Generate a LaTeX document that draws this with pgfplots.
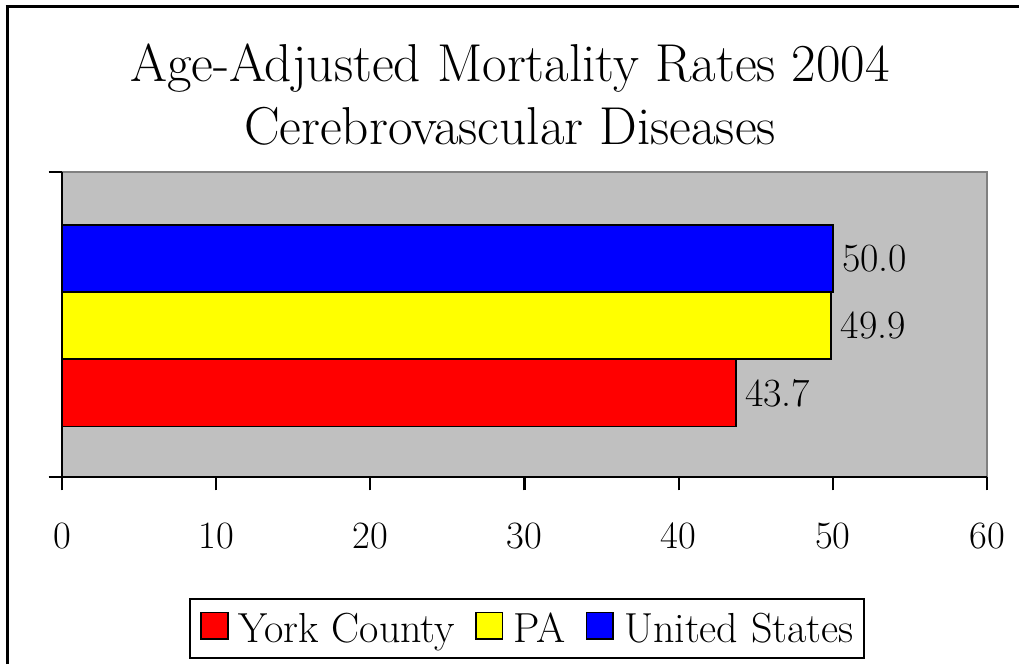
\documentclass[border=0pt]{standalone}
\usepackage{fontspec}
\usepackage{pgfplots}
\pgfplotsset{compat=1.18}
\definecolor{plotgray}{RGB}{192,192,192}
\definecolor{edgegray}{RGB}{128,128,128}
\definecolor{barred}{RGB}{255,0,0}
\definecolor{baryellow}{RGB}{255,255,0}
\definecolor{barblue}{RGB}{0,0,255}
\begin{document}
\begin{tikzpicture}[x=0.75pt,y=0.75pt]
\useasboundingbox (0,0) rectangle (1019,664);
\draw[line width=2.25pt] (7,0) -- (7,657);
\draw[line width=2.25pt] (5.5,657) -- (1019,657);
\node[font=\fontsize{40}{46}\selectfont, anchor=base] at (510,582) {Age-Adjusted Mortality Rates 2004};
\node[font=\fontsize{40}{46}\selectfont, anchor=base] at (510,519) {Cerebrovascular Diseases};
\begin{axis}[
  at={(46.5pt,140.25pt)}, anchor=south west,
  width=693.75pt, height=228.75pt, scale only axis,
  xmin=0, xmax=60, ymin=0, ymax=305,
  xtick={0,10,20,30,40,50,60},
  ytick={0,305}, yticklabels={},
  tick align=outside, major tick length=10pt,
  axis x line*=bottom, axis y line*=left,
  axis line style={line width=1.6pt},
  tick style={black, line width=1.6pt},
  axis background/.style={fill=plotgray, draw=edgegray, line width=2pt},
  /pgf/number format/assume math mode=true,
  ticklabel style={font=\fontsize{29}{33}\selectfont},
  xticklabel style={yshift=-21pt},
  xbar, bar width=67, bar shift=0pt,
  every axis plot/.append style={draw=black, line width=1.4pt, bar shift=0pt},
  nodes near coords,
  nodes near coords style={anchor=west, xshift=3pt, font=\fontsize{30}{34}\selectfont, /pgf/number format/fixed, /pgf/number format/fixed zerofill, /pgf/number format/precision=1},
  legend columns=3,
  legend style={at={(0.5027,-0.4967)}, anchor=center, draw=black, line width=1.5pt, font=\fontsize{31.5}{35}\selectfont, inner xsep=8pt, inner ysep=8pt,
    nodes={inner xsep=0pt},
    /tikz/every even column/.append style={column sep=15pt},
    /tikz/every odd column/.append style={column sep=7.5pt}},
  legend image code/.code={\draw[#1, draw=black, line width=1.3pt] (0pt,-8pt) rectangle (20pt,12pt);},
]
\addplot[fill=barred, bar shift=0pt] coordinates {(43.7,84)};
\addplot[fill=baryellow, bar shift=0pt] coordinates {(49.9,151.5)};
\addplot[fill=barblue, bar shift=0pt] coordinates {(50.0,218.5)};
\legend{York County,PA,United States}
\end{axis}
\end{tikzpicture}
\end{document}
